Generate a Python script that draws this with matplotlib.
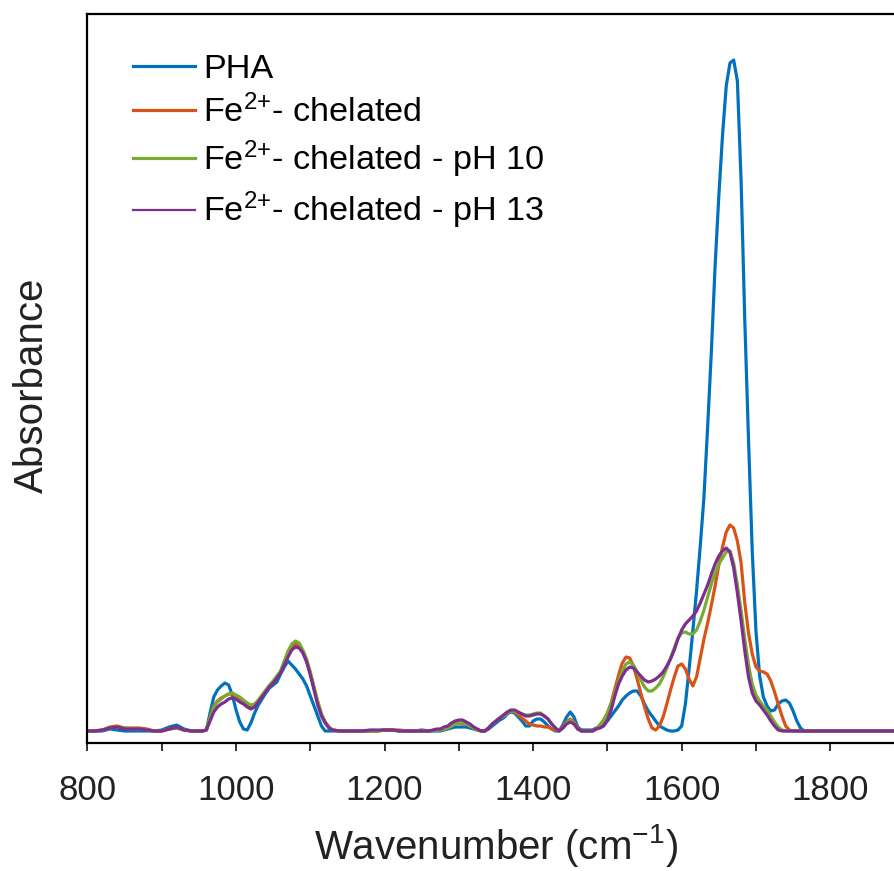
import numpy as np
import matplotlib
matplotlib.use("Agg")
import matplotlib.pyplot as plt

# Wavenumber sample positions (cm^-1)
wavenumber = np.concatenate([
    np.arange(800, 951, 10),    # 16
    np.arange(955, 1126, 5),    # 35
    np.arange(1130, 1271, 10),  # 15
    np.arange(1275, 1781, 5),   # 102
    np.arange(1790, 1901, 10),  # 12
])

# Absorbance (arbitrary units, x1e-3)
pha = [
    0, 0, 0, 2, 1, 0, 0, 0, 0, 0, 1, 4, 6, 2, 0, 0,
    0, 1, 18, 34, 41, 45, 48, 46, 36, 21, 9, 2, 1, 8, 18, 26, 32, 38, 43, 46,
    49, 57, 64, 70, 66, 62, 57, 52, 45, 35, 25, 15, 5, 0, 0,
    0, 0, 0, 0, 0, 0, 0, 1, 1, 0, 0, 0, 1, 0, 0,
    0, 1, 2, 3, 4, 4, 4, 4, 3, 2, 1, 0, 0, 2, 5, 8, 11, 13, 17, 19,
    18, 14, 10, 5, 5, 10, 12, 12, 9, 5, 2, 0, 0, 6, 14, 19, 14, 4, 1, 1, 1, 1, 3,
    4, 6, 10, 15, 20, 25, 31, 35, 38, 40, 40, 35, 27, 20, 15, 10, 5, 3, 1, 0,
    0, 1, 5, 27, 62, 100, 140, 185, 234, 305, 380, 465, 535, 596, 645, 668, 671, 650, 550, 410,
    291, 180, 100, 55, 34, 25, 20, 21, 27, 30, 31, 28, 20, 10, 3, 0, 0, 0, 0,
    0, 0, 0, 0, 0, 0, 0, 0, 0, 0, 0, 0,
]
fe_chelated = [
    0, 0, 1, 4, 5, 3, 3, 3, 2, 0, 0, 2, 3, 1, 0, 0,
    0, 1, 13, 25, 30, 33, 35, 37, 37, 35, 33, 29, 26, 24, 25, 30, 35, 40, 45, 49,
    54, 59, 69, 78, 84, 87, 85, 79, 70, 58, 43, 29, 17, 9, 4,
    1, 0, 0, 0, 0, 0, 0, 1, 1, 1, 0, 0, 0, 0, 1,
    1, 2, 3, 5, 7, 8, 7, 7, 5, 3, 1, 0, 0, 3, 7, 10, 13, 15, 18, 20,
    19, 16, 13, 10, 7, 6, 5, 5, 4, 4, 2, 1, 0, 4, 9, 12, 9, 3, 0, 0, 0, 0, 2,
    6, 11, 18, 28, 42, 56, 68, 74, 73, 65, 52, 38, 24, 12, 3, 1, 5, 14, 27, 41,
    54, 65, 67, 62, 52, 45, 54, 73, 92, 108, 126, 145, 166, 184, 199, 206, 203, 190, 168, 128,
    98, 77, 64, 60, 59, 57, 50, 39, 27, 15, 5, 1, 0, 0, 0, 0, 0, 0, 0,
    0, 0, 0, 0, 0, 0, 0, 0, 0, 0, 0, 0,
]
fe_ph10 = [
    0, 0, 1, 3, 4, 3, 2, 2, 1, 0, 0, 2, 3, 1, 0, 0,
    0, 1, 13, 24, 29, 32, 35, 37, 38, 36, 34, 31, 28, 26, 27, 31, 36, 41, 46, 50,
    55, 60, 70, 80, 87, 90, 88, 81, 72, 59, 44, 29, 17, 9, 4,
    1, 0, 0, 0, 0, 0, 0, 1, 1, 0, 0, 0, 0, 0, 1,
    1, 2, 3, 5, 7, 8, 8, 7, 5, 3, 1, 0, 0, 3, 7, 10, 13, 15, 18, 20,
    20, 18, 17, 16, 16, 17, 18, 18, 15, 12, 7, 3, 0, 3, 8, 11, 8, 2, 0, 0, 0, 0, 2,
    6, 11, 18, 27, 38, 50, 60, 67, 69, 66, 59, 51, 44, 40, 40, 43, 47, 54, 63, 73,
    83, 93, 98, 99, 97, 97, 101, 110, 121, 134, 147, 158, 167, 173, 179, 180, 168, 146, 120, 92,
    66, 47, 36, 30, 25, 21, 15, 9, 4, 1, 0, 0, 0, 0, 0, 0, 0, 0, 0,
    0, 0, 0, 0, 0, 0, 0, 0, 0, 0, 0, 0,
]
fe_ph13 = [
    0, 0, 1, 3, 4, 2, 2, 2, 1, 0, 0, 2, 4, 1, 0, 0,
    0, 1, 10, 19, 24, 27, 29, 32, 33, 32, 29, 27, 24, 22, 24, 29, 34, 39, 44, 48,
    53, 58, 66, 74, 81, 84, 83, 78, 69, 56, 41, 26, 15, 8, 3,
    1, 0, 0, 0, 0, 1, 1, 1, 1, 0, 0, 0, 0, 0, 2,
    2, 4, 5, 8, 10, 11, 11, 9, 7, 4, 2, 0, 0, 3, 7, 10, 13, 16, 19, 21,
    21, 19, 17, 15, 15, 16, 17, 17, 15, 12, 7, 3, 0, 3, 7, 9, 7, 2, 0, 0, 0, 0, 2,
    3, 5, 11, 21, 35, 47, 55, 61, 64, 63, 59, 55, 51, 49, 50, 52, 55, 59, 65, 72,
    81, 92, 101, 107, 111, 115, 120, 128, 137, 146, 157, 167, 175, 180, 183, 179, 163, 138, 110, 80,
    54, 38, 30, 26, 21, 16, 10, 5, 1, 0, 0, 0, 0, 0, 0, 0, 0, 0, 0,
    0, 0, 0, 0, 0, 0, 0, 0, 0, 0, 0, 0,
]

series_labels = ["PHA", "Fe$^{2{+}}$- chelated", "Fe$^{2{+}}$- chelated - pH 10",
                 "Fe$^{2{+}}$- chelated - pH 13"]
series_colors = ["#0072BD", "#D95319", "#77AC30", "#7E2F8E"]
x_ticks = list(range(800, 1901, 100))
x_ticklabels = [str(t) if t % 200 == 0 else "" for t in x_ticks]

plt.rcParams["font.family"] = ["Liberation Sans", "DejaVu Sans"]
plt.rcParams["mathtext.fontset"] = "custom"
plt.rcParams["mathtext.rm"] = "Liberation Sans"
plt.rcParams["mathtext.it"] = "Liberation Sans:italic"
plt.rcParams["mathtext.bf"] = "Liberation Sans:bold"

txt = "#222222"
fig = plt.figure(figsize=(8.95, 8.71), dpi=100)
ax = fig.add_axes([87.5 / 895, 128 / 871, 817 / 895, 729 / 871])

for ys, lab, col in zip([pha, fe_chelated, fe_ph10, fe_ph13], series_labels, series_colors):
    ax.plot(wavenumber, ys, color=col, lw=2.3, label=lab, solid_joinstyle="round")

ax.set_xlim(800, 1900)
ax.set_ylim(-12, 717)
ax.set_yticks([])
ax.set_xticks(x_ticks)
ax.set_xticklabels(x_ticklabels)
ax.tick_params(axis="x", direction="out", length=6, width=1.3, labelsize=25,
               pad=16, colors=txt)
for s in ["left", "bottom", "top", "right"]:
    ax.spines[s].set_linewidth(1.6)
    ax.spines[s].set_color("black")

ax.set_xlabel("Wavenumber (cm$^{-1}$)", fontsize=29, color=txt, labelpad=11)
ax.set_ylabel("Absorbance", fontsize=29, color=txt)
ax.yaxis.set_label_coords(-0.045, 0.49)

leg = ax.legend(loc="upper left", bbox_to_anchor=(0.0557, 0.945), frameon=False,
                fontsize=24.7, handlelength=1.8, handletextpad=0.24, labelspacing=0.28,
                borderpad=0, borderaxespad=0)
for t in leg.get_texts():
    t.set_color("black")
for i, h in enumerate(leg.legend_handles):
    h.set_linewidth(2.3 if i < 3 else 1.6)

fig.savefig("out.png", dpi=100)
